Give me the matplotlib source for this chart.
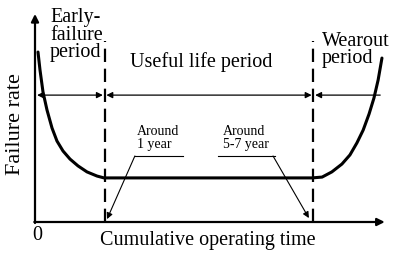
import matplotlib
matplotlib.use("Agg")
import matplotlib.pyplot as plt

# Bathtub curve (time in arbitrary units 0-10, failure rate in arbitrary units 0-10)
time = [0.086, 0.144, 0.230, 0.345, 0.489, 0.632, 0.805, 1.006, 1.236, 1.494, 1.782, 1.983,
        7.96, 8.25, 8.53, 8.82, 9.05, 9.25, 9.43, 9.60, 9.74, 9.86, 9.97]
rate = [8.21, 7.34, 6.28, 5.41, 4.54, 3.91, 3.43, 3.04, 2.71, 2.42, 2.22, 2.13,
        2.13, 2.17, 2.42, 2.80, 3.24, 3.82, 4.44, 5.22, 5.99, 6.86, 7.92]

boundaries = [2.0, 8.0]          # end of early failure / start of wearout
period_level = 6.13              # height of the period arrows
period_labels = ["Early-\nfailure\nperiod", "Useful life period", "Wearout\nperiod"]
note_labels = ["Around\n1 year", "Around\n5-7 year"]
x_label = "Cumulative operating time"
y_label = "Failure rate"

plt.rcParams['font.family'] = ['Liberation Serif', 'DejaVu Serif']

fig = plt.figure(figsize=(4.0, 2.6), dpi=100)
ax = fig.add_axes([35/400, 38/260, 348/400, 207/260])
ax.set_xlim(0, 10)
ax.set_ylim(0, 10)
ax.axis('off')

k = 'black'
# axes with arrows
ax.annotate('', xy=(0, 10.05), xytext=(0, -0.05),
            arrowprops=dict(arrowstyle='-|>', color=k, lw=1.6, mutation_scale=11, shrinkA=0, shrinkB=0),
            annotation_clip=False)
ax.annotate('', xy=(10.05, 0), xytext=(-0.02, 0),
            arrowprops=dict(arrowstyle='-|>', color=k, lw=1.6, mutation_scale=11, shrinkA=0, shrinkB=0),
            annotation_clip=False)

# curve
ax.plot(time, rate, color=k, lw=2.2, solid_capstyle='round', solid_joinstyle='round', clip_on=False)

# dashed boundaries
for b in boundaries:
    ax.plot([b, b], [0, 8.75], color=k, lw=1.6, ls=(0, (6, 3)), clip_on=False)

# period arrows
arr = dict(color=k, lw=0.9, mutation_scale=9, shrinkA=0, shrinkB=0)
ax.annotate('', xy=(0.06, period_level), xytext=(boundaries[0]-0.05, period_level),
            arrowprops=dict(arrowstyle='<|-|>', **arr))
ax.annotate('', xy=(boundaries[0]+0.05, period_level), xytext=(boundaries[1]-0.05, period_level),
            arrowprops=dict(arrowstyle='<|-|>', **arr))
ax.annotate('', xy=(boundaries[1]+0.05, period_level), xytext=(9.92, period_level),
            arrowprops=dict(arrowstyle='-|>', **arr))

# period labels
fs = 14.5
ax.text(0.43, 9.03, period_labels[0], fontsize=fs, ha='left', va='center', linespacing=0.92)
ax.text(4.77, 7.73, period_labels[1], fontsize=fs, ha='center', va='center')
ax.text(8.25, 8.31, period_labels[2], fontsize=fs, ha='left', va='center', linespacing=0.92)

# notes with leader lines
fs2 = 10
ax.text(2.94, 4.08, note_labels[0], fontsize=fs2, ha='left', va='center', linespacing=1.0)
ax.text(5.40, 4.08, note_labels[1], fontsize=fs2, ha='left', va='center', linespacing=1.0)
ax.plot([2.87, 4.25], [3.19, 3.19], color=k, lw=0.8)
ax.plot([5.26, 6.90], [3.19, 3.19], color=k, lw=0.8)
ax.annotate('', xy=(2.07, 0.14), xytext=(2.87, 3.19),
            arrowprops=dict(arrowstyle='-|>', color=k, lw=0.8, mutation_scale=9, shrinkA=0, shrinkB=0))
ax.annotate('', xy=(7.87, 0.19), xytext=(6.84, 3.19),
            arrowprops=dict(arrowstyle='-|>', color=k, lw=0.8, mutation_scale=9, shrinkA=0, shrinkB=0))

# axis labels
ax.text(-0.57, 4.73, y_label, fontsize=16, rotation=90, ha='center', va='center')
ax.text(0.06, -0.63, "0", fontsize=fs, ha='center', va='center')
ax.text(4.97, -0.87, x_label, fontsize=fs, ha='center', va='center')

fig.savefig('out.png', dpi=100)
